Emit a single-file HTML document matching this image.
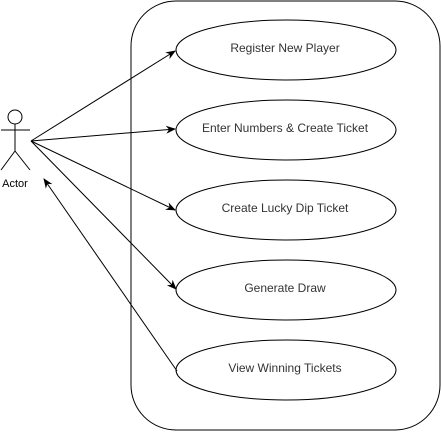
<!DOCTYPE html>
<html><head><style>html,body{margin:0;padding:0;background:#fff}</style></head><body>
<svg width="441" height="431" xmlns="http://www.w3.org/2000/svg" font-family="Liberation Sans, sans-serif" font-size="12">
<defs><marker id="a" markerWidth="10" markerHeight="10" refX="9" refY="5" orient="auto" markerUnits="userSpaceOnUse"><path d="M0,1 L10,5 L0,9 L3,5 Z" fill="#000"/></marker></defs>
<rect x="131" y="1" width="309" height="429" rx="45" ry="45" fill="#fff" stroke="#000"/>
<g fill="#fff" stroke="#000">
<ellipse cx="286" cy="50" rx="110" ry="30"/>
<ellipse cx="286" cy="130" rx="110" ry="30"/>
<ellipse cx="286" cy="210" rx="110" ry="30"/>
<ellipse cx="286" cy="290" rx="110" ry="30"/>
<ellipse cx="286" cy="370" rx="110" ry="30"/>
</g>
<g text-anchor="middle" fill="#333">
<text x="285" y="52">Register New Player</text>
<text x="285" y="132">Enter Numbers &amp; Create Ticket</text>
<text x="285" y="212">Create Lucky Dip Ticket</text>
<text x="285" y="292">Generate Draw</text>
<text x="285" y="372">View Winning Tickets</text>
</g>
<g stroke="#000" fill="none">
<circle cx="15" cy="117" r="7"/>
<line x1="15" y1="124" x2="15" y2="151"/>
<line x1="1" y1="130" x2="30" y2="130"/>
<line x1="15" y1="151" x2="1" y2="170"/>
<line x1="15" y1="151" x2="30" y2="170"/>
<line x1="31" y1="141" x2="175" y2="51" marker-end="url(#a)"/>
<line x1="31" y1="141" x2="175" y2="129" marker-end="url(#a)"/>
<line x1="31" y1="141" x2="175" y2="210" marker-end="url(#a)"/>
<line x1="31" y1="141" x2="176" y2="289" marker-end="url(#a)"/>
<line x1="177" y1="371" x2="44" y2="179" marker-end="url(#a)"/>
</g>
<text x="15" y="187" text-anchor="middle" fill="#000" font-size="11">Actor</text>
</svg>
</body></html>
